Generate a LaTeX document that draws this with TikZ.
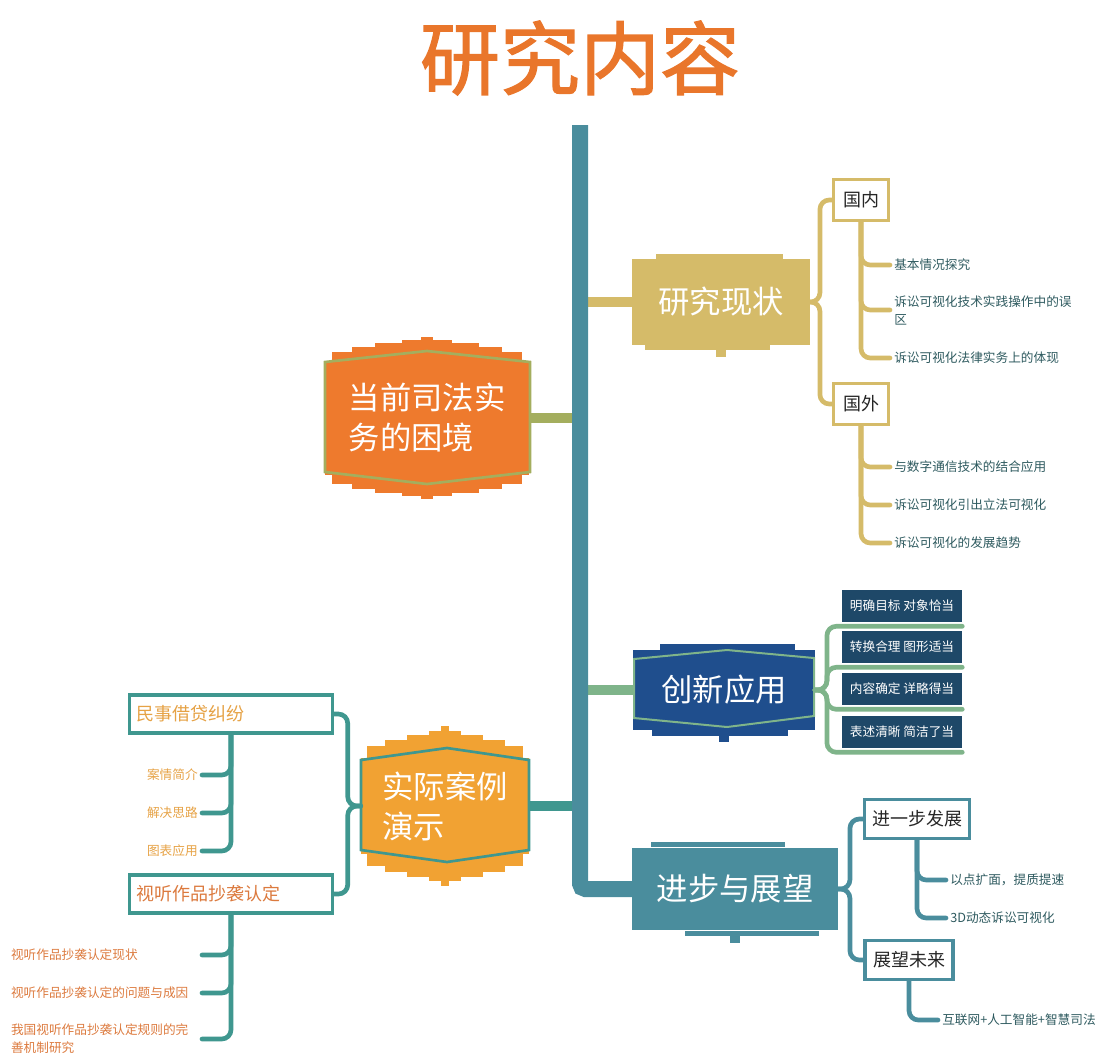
\documentclass[tikz,border=0pt]{standalone}
\usepackage{fontspec}
\setmainfont{Noto Sans CJK SC}
\newfontfamily\titlefont[FakeBold=1.6]{Noto Sans CJK SC}
\usetikzlibrary{backgrounds}

\definecolor{titleor}{HTML}{E9762B}
\definecolor{spinec}{HTML}{4A8D9D}
\definecolor{khaki}{HTML}{D5BB69}
\definecolor{orbox}{HTML}{EE7A2D}
\definecolor{olive}{HTML}{A4AE5E}
\definecolor{navy}{HTML}{1F4E8D}
\definecolor{navyleaf}{HTML}{1E4868}
\definecolor{mint}{HTML}{7FB48A}
\definecolor{amber}{HTML}{F1A233}
\definecolor{tealc}{HTML}{3F978F}
\definecolor{leaftxt}{HTML}{2E5A5F}
\definecolor{amtxt}{HTML}{E6A245}
\definecolor{brtxt}{HTML}{DC7A3E}

\begin{document}
\begin{tikzpicture}[x=0.75pt,y=-0.75pt,
  spine/.style={line width=12pt,draw=spinec,rounded corners=4pt},
  trunk/.style={line width=7pt,draw=#1},
  brace/.style={line width=3.5pt,draw=#1,rounded corners=7pt,line cap=round},
  branch/.style={fill=#1,text=white,font=\fontsize{23.5}{30}\selectfont,inner sep=0pt,align=left},
  subbox/.style={draw=#1,line width=2.5pt,fill=white,text=black!85,font=\fontsize{13.5}{16}\selectfont,inner sep=0pt},
  leaf/.style={text=#1,font=\fontsize{9.5}{13.5}\selectfont,inner sep=0pt,inner xsep=3pt,align=left},
  tag/.style={fill=navyleaf,text=white,font=\fontsize{9.5}{12}\selectfont,minimum width=90pt,minimum height=24pt,inner sep=0pt}]

\useasboundingbox (0,0) rectangle (1105,1054);

% title
\node[text=titleor,font=\fontsize{60}{60}\titlefont] (title) at (580,58) {研究内容};

% spine
\coordinate (sptop) at (580,125);
\coordinate (spbot) at (580,889);

% main branches
\node[branch=khaki,minimum width=133pt,minimum height=64pt] (yjxz) at (721,302) {研究现状};
\node[branch=orbox,minimum width=153pt,minimum height=86pt] (dq) at (427,418) {当前司法实\\务的困境};
\node[branch=navy,minimum width=136pt,minimum height=60pt] (cxyy) at (724,690) {创新应用};
\node[branch=amber,minimum width=126pt,minimum height=72pt] (sjal) at (445,806) {实际案例\\演示};
\node[branch=spinec,minimum width=154pt,minimum height=62pt] (jbzw) at (735,889) {进步与展望};

% outlines
\draw[olive,line width=2pt] (dq.center) ++(-102,-56) -- ++(102,-11) -- ++(103,11) -- ++(0,110) -- ++(-103,12) -- ++(-102,-12) -- cycle;
\draw[tealc,line width=2pt] (sjal.center) ++(-84,-46) -- ++(86,-12) -- ++(82,12) -- ++(0,90) -- ++(-82,12) -- ++(-86,-12) -- cycle;
\draw[mint,line width=1.5pt] (cxyy.center) ++(-90,-31) -- ++(93,-9) -- ++(87,8) -- ++(0,58) -- ++(-87,11) -- ++(-93,-9) -- cycle;

% second level
\node[subbox=khaki,minimum width=41pt,minimum height=31pt] (gn) at (861,200) {国内};
\node[subbox=khaki,minimum width=41pt,minimum height=31pt] (gw) at (861,404) {国外};
\node[subbox=spinec,minimum width=79pt,minimum height=29pt] (jyb) at (917,819) {进一步发展};
\node[subbox=spinec,minimum width=66pt,minimum height=29pt] (zwwl) at (909,960) {展望未来};
\node[subbox=tealc,minimum width=152pt,minimum height=28.5pt,text width=142pt,inner xsep=5pt,align=left,text=amtxt] (msjd) at (231,714) {民事借贷纠纷};
\node[subbox=tealc,minimum width=152pt,minimum height=28.5pt,text width=142pt,inner xsep=5pt,align=left,text=brtxt] (stzp) at (231,894) {视听作品抄袭认定};

% leaves
\node[leaf=leaftxt,anchor=west] (gn1) at (890,265) {基本情况探究};
\node[leaf=leaftxt,anchor=west] (gn2) at (890,310) {诉讼可视化技术实践操作中的误\\区};
\node[leaf=leaftxt,anchor=west] (gn3) at (890,358) {诉讼可视化法律实务上的体现};
\node[leaf=leaftxt,anchor=west] (gw1) at (890,467) {与数字通信技术的结合应用};
\node[leaf=leaftxt,anchor=west] (gw2) at (890,505) {诉讼可视化引出立法可视化};
\node[leaf=leaftxt,anchor=west] (gw3) at (890,543) {诉讼可视化的发展趋势};

\node[tag] (m1) at (902,606) {明确目标 对象恰当};
\node[tag] (m2) at (902,647) {转换合理 图形适当};
\node[tag] (m3) at (902,689) {内容确定 详略得当};
\node[tag] (m4) at (902,732) {表述清晰 简洁了当};

\node[leaf=leaftxt,anchor=west] (jy1) at (946,880) {以点扩面，提质提速};
\node[leaf=leaftxt,anchor=west] (jy2) at (946,918) {3D动态诉讼可视化};
\node[leaf=leaftxt,anchor=west] (zw1) at (938,1020) {互联网+人工智能+智慧司法};

\node[leaf=amtxt,anchor=east] (ms1) at (202,775) {案情简介};
\node[leaf=amtxt,anchor=east] (ms2) at (202,813) {解决思路};
\node[leaf=amtxt,anchor=east] (ms3) at (202,851) {图表应用};
\node[leaf=brtxt,anchor=east,text width=140pt] (st1) at (202,955) {视听作品抄袭认定现状};
\node[leaf=brtxt,anchor=east,text width=140pt] (st2) at (202,993) {视听作品抄袭认定的问题与成因};
\node[leaf=brtxt,anchor=east,text width=140pt] (st3) at (202,1039) {我国视听作品抄袭认定规则的完\\善机制研究};

% connectors to spine
\draw[trunk=khaki] (yjxz.west) -- (yjxz.west -| sptop);
\draw[trunk=olive] (dq.east) -- (dq.east -| sptop);
\draw[trunk=mint] (cxyy.west) -- (cxyy.west -| sptop);
\draw[trunk=tealc] (sjal.east) -- (sjal.east -| sptop);
\draw[spine] (sptop) -- (spbot) -- (jbzw.west);

% brackets
\draw[brace=khaki] (yjxz.east) -- ++(10,0) |- (gn.west);
\draw[brace=khaki] (yjxz.east) -- ++(10,0) |- (gw.west);
\foreach \n in {gn1,gn2,gn3}
  \draw[brace=khaki] (gn.south) |- (\n.west);
\foreach \n in {gw1,gw2,gw3}
  \draw[brace=khaki] (gw.south) |- (\n.west);

\foreach \n in {m1,m2,m3,m4}
  \draw[brace=mint] (cxyy.east) -- ++(12,0) |- ([yshift=-3pt]\n.south east);

\draw[brace=spinec] (jbzw.east) -- ++(12,0) |- (jyb.west);
\draw[brace=spinec] (jbzw.east) -- ++(12,0) |- (zwwl.west);
\foreach \n in {jy1,jy2}
  \draw[brace=spinec] (jyb.south) |- (\n.west);
\draw[brace=spinec] (zwwl.south) |- (zw1.west);

\draw[brace=tealc] (sjal.west) -- ++(-13,0) |- (msjd.east);
\draw[brace=tealc] (sjal.west) -- ++(-13,0) |- (stzp.east);
\foreach \n in {ms1,ms2,ms3}
  \draw[brace=tealc] (msjd.south) |- (\n.east);
\foreach \n in {st1,st2,st3}
  \draw[brace=tealc] (stzp.south) |- (\n.east);

% rough edges behind the branches
\begin{scope}[on background layer]
  \foreach \hw/\hh in {95/66,75/71,52/75,25/78,6/81}
    \fill[orbox] (dq.center) ++(-\hw,-\hh) rectangle ++(2*\hw,2*\hh);
  \foreach \hw/\hh in {78/60,60/66,38/71,16/75,4/80}
    \fill[amber] (sjal.center) ++(-\hw,-\hh) rectangle ++(2*\hw,2*\hh);
  \fill[khaki] ([xshift=18pt,yshift=4pt]yjxz.north west) rectangle ([xshift=-20pt]yjxz.north east);
  \fill[khaki] ([xshift=10pt,yshift=-4pt]yjxz.south west) rectangle ([xshift=-30pt]yjxz.south east);
  \fill[khaki] ([xshift=-4pt]yjxz.south) rectangle ([xshift=4pt,yshift=-9pt]yjxz.south);
  \fill[navy] ([xshift=20pt,yshift=4pt]cxyy.north west) rectangle ([xshift=-15pt]cxyy.north east);
  \fill[navy] ([xshift=14pt,yshift=-4pt]cxyy.south west) rectangle ([xshift=-20pt]cxyy.south east);
  \fill[navy] ([xshift=-4pt]cxyy.south) rectangle ([xshift=4pt,yshift=-9pt]cxyy.south);
  \fill[spinec] ([xshift=14pt,yshift=4pt]jbzw.north west) rectangle ([xshift=-40pt]jbzw.north east);
  \fill[spinec] ([xshift=40pt,yshift=-4pt]jbzw.south west) rectangle ([xshift=-14pt]jbzw.south east);
  \fill[spinec] ([xshift=-4pt]jbzw.south) rectangle ([xshift=4pt,yshift=-9pt]jbzw.south);
\end{scope}
\end{tikzpicture}
\end{document}
